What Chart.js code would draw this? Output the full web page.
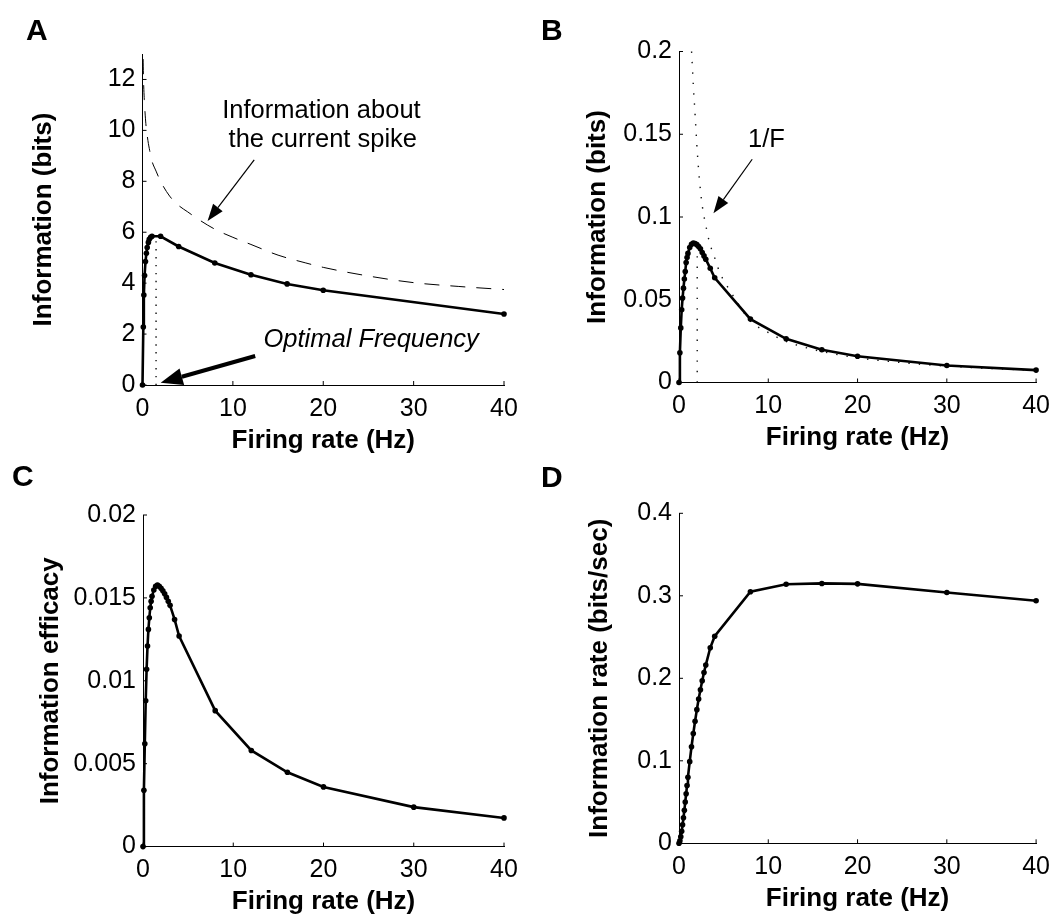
<!DOCTYPE html>
<html>
<head>
<meta charset="utf-8">
<script src="https://cdn.jsdelivr.net/npm/chart.js@4"></script>
<style>
html,body{margin:0;padding:0;background:#fff;}
#wrap{position:relative;width:1059px;height:919px;overflow:hidden;background:#fff;}
canvas{position:absolute;display:block;}
</style>
</head>
<body>
<div id="wrap">
<canvas id="cA" width="529" height="459" style="left:0;top:0;width:529px;height:459px"></canvas>
<canvas id="cB" width="530" height="459" style="left:529px;top:0;width:530px;height:459px"></canvas>
<canvas id="cC" width="529" height="460" style="left:0;top:459px;width:529px;height:460px"></canvas>
<canvas id="cD" width="530" height="460" style="left:529px;top:459px;width:530px;height:460px"></canvas>
</div>
<script>
// ---------------- DATA ----------------
const xTicks = [0, 10, 20, 30, 40];
const xTickLabels = ['0', '10', '20', '30', '40'];

// Panel A: information (bits)
const rateA = [0, 0.09, 0.15, 0.23, 0.33, 0.43, 0.52, 0.65, 0.75, 0.9, 1.05, 2, 4, 8, 12, 16, 20, 40];
const infoA = [0, 2.28, 3.53, 4.3, 4.85, 5.17, 5.4, 5.6, 5.72, 5.8, 5.84, 5.84, 5.44, 4.79, 4.33, 3.97, 3.72, 2.79];
// dashed: information about the current spike
const spikeRateA = [0.07, 0.1, 0.15, 0.2, 0.3, 0.4, 0.6, 0.8, 1.0, 1.5, 2, 3, 4, 5, 6, 8, 10, 12, 15, 18, 20, 25, 30, 35, 40];
const spikeInfoA = [12.8, 12.15, 11.6, 11.2, 10.6, 10.15, 9.6, 9.2, 8.85, 8.4, 8.0, 7.42, 7.05, 6.8, 6.55, 6.12, 5.8, 5.52, 5.1, 4.8, 4.62, 4.28, 4.02, 3.87, 3.75];
// dotted: optimal frequency marker
const optRateA = [1.5, 1.5];
const optInfoA = [0, 5.75];
const yTicksA = [0, 2, 4, 6, 8, 10, 12];
const yTickLabelsA = ['0', '2', '4', '6', '8', '10', '12'];

// Panels B, C, D share the firing-rate grid
const rateBCD = [0, 0.1, 0.2, 0.3, 0.4, 0.5, 0.6, 0.7, 0.8, 0.9, 1.0, 1.2, 1.4, 1.6, 1.8, 2.0, 2.2, 2.4, 2.6, 2.8, 3.0, 3.5, 4, 8, 12, 16, 20, 30, 40];
// Panel B: information (bits)
const infoB = [0, 0.018, 0.033, 0.044, 0.051, 0.057, 0.0625, 0.067, 0.0725, 0.0755, 0.078, 0.0815, 0.0835, 0.0843, 0.084, 0.0833, 0.0822, 0.0808, 0.0785, 0.0765, 0.0745, 0.069, 0.0633, 0.0383, 0.0264, 0.0198, 0.0159, 0.0103, 0.0075];
// dotted 1/F curve
const invRateB = [1.41, 1.6, 1.8, 2.04, 2.3, 2.6, 3.0, 3.4, 4.0, 4.6, 5.2, 6, 7, 8, 10, 12, 14, 16, 20, 25, 30, 35, 40];
const invInfoB = [0.2, 0.18, 0.162, 0.14, 0.122, 0.107, 0.095, 0.085, 0.0753, 0.066, 0.06, 0.053, 0.0445, 0.037, 0.0302, 0.0248, 0.0214, 0.0187, 0.0149, 0.012, 0.0099, 0.0085, 0.0073];
const optRateB = [2.04, 2.04];
const optInfoB = [0, 0.08];
const yTicksB = [0, 0.05, 0.1, 0.15, 0.2];
const yTickLabelsB = ['0', '0.05', '0.1', '0.15', '0.2'];

// Panel C: information efficacy
const efficacyC = [0, 0.0034, 0.0062, 0.0088, 0.0107, 0.0121, 0.0131, 0.0138, 0.0144, 0.0148, 0.0151, 0.01548, 0.0157, 0.01578, 0.0157, 0.01558, 0.01543, 0.01525, 0.01503, 0.0148, 0.01455, 0.0137, 0.0127, 0.0082, 0.0058, 0.00448, 0.0036, 0.00238, 0.00173];
const yTicksC = [0, 0.005, 0.01, 0.015, 0.02];
const yTickLabelsC = ['0', '0.005', '0.01', '0.015', '0.02'];

// Panel D: information rate (bits/sec)
const infoRateD = [0, 0.003, 0.008, 0.0145, 0.0225, 0.031, 0.040, 0.050, 0.060, 0.070, 0.080, 0.099, 0.117, 0.133, 0.148, 0.162, 0.175, 0.186, 0.197, 0.207, 0.216, 0.237, 0.251, 0.305, 0.314, 0.315, 0.3145, 0.304, 0.294];
const yTicksD = [0, 0.1, 0.2, 0.3, 0.4];
const yTickLabelsD = ['0', '0.1', '0.2', '0.3', '0.4'];

// ---------------- RENDERING ----------------
const FONT = '"Liberation Sans", Arial, Helvetica, sans-serif';
Chart.defaults.font.family = FONT;
Chart.defaults.color = '#000';

function pts(xs, ys) { return xs.map((x, i) => ({ x: x, y: ys[i] })); }

function solidSet(xs, ys) {
  return { data: pts(xs, ys), showLine: true, borderColor: '#000', borderWidth: 2.6,
    pointRadius: 2.8, pointHoverRadius: 2.8, pointBackgroundColor: '#000', pointBorderWidth: 0,
    tension: 0, clip: false, order: 0 };
}
function dottedSet(xs, ys, gap) {
  return { data: pts(xs, ys), showLine: true, borderColor: '#111', borderWidth: 1.4,
    borderDash: [1.4, gap], pointRadius: 0, pointHoverRadius: 0, cubicInterpolationMode: 'monotone',
    clip: false, order: 2 };
}
function dashedSet(xs, ys) {
  return { data: pts(xs, ys), showLine: true, borderColor: '#000', borderWidth: 1,
    borderDash: [15, 11], pointRadius: 0, pointHoverRadius: 0, cubicInterpolationMode: 'monotone',
    clip: false, order: 1 };
}

function drawArrow(ctx, x1, y1, x2, y2, lw, headLen, headHalf) {
  const ang = Math.atan2(y2 - y1, x2 - x1);
  const bx = x2 - headLen * Math.cos(ang), by = y2 - headLen * Math.sin(ang);
  ctx.lineWidth = lw;
  ctx.beginPath(); ctx.moveTo(x1, y1); ctx.lineTo(bx, by); ctx.stroke();
  ctx.beginPath();
  ctx.moveTo(x2, y2);
  ctx.lineTo(bx + headHalf * Math.sin(ang), by - headHalf * Math.cos(ang));
  ctx.lineTo(bx - headHalf * Math.sin(ang), by + headHalf * Math.cos(ang));
  ctx.closePath(); ctx.fill();
}

const decor = {
  id: 'decor',
  afterDatasetsDraw(chart, args, opts) {
    const ctx = chart.ctx, xs = chart.scales.x, ys = chart.scales.y;
    ctx.save();
    ctx.strokeStyle = '#000'; ctx.fillStyle = '#000'; ctx.lineWidth = 1;
    // inward ticks (MATLAB style)
    xs.ticks.forEach(t => {
      const px = xs.getPixelForValue(t.value);
      ctx.beginPath(); ctx.moveTo(px, ys.bottom); ctx.lineTo(px, ys.bottom - 4); ctx.stroke();
    });
    ys.ticks.forEach(t => {
      const py = ys.getPixelForValue(t.value);
      ctx.beginPath(); ctx.moveTo(xs.left, py); ctx.lineTo(xs.left + 4, py); ctx.stroke();
    });
    // annotation texts
    (opts.texts || []).forEach(t => {
      ctx.font = (t.italic ? 'italic ' : '') + '25.5px ' + FONT;
      ctx.textAlign = 'center'; ctx.textBaseline = 'alphabetic';
      ctx.fillText(t.text, xs.getPixelForValue(t.x), ys.getPixelForValue(t.y));
    });
    // arrows
    (opts.arrows || []).forEach(a => {
      drawArrow(ctx, xs.getPixelForValue(a.from[0]), ys.getPixelForValue(a.from[1]),
        xs.getPixelForValue(a.to[0]), ys.getPixelForValue(a.to[1]), a.lw, a.head, a.half);
    });
    // panel letter
    if (opts.letter) {
      ctx.font = 'bold 30px ' + FONT; ctx.textAlign = 'left'; ctx.textBaseline = 'alphabetic';
      ctx.fillText(opts.letter.text, opts.letter.x, opts.letter.y);
    }
    ctx.restore();
  }
};

function makePanel(id, g, datasets, yMax, yTicks, yLabels, yTitle, decorOpts) {
  const canvas = document.getElementById(id);
  const W = canvas.width, H = canvas.height;
  return new Chart(canvas, {
    type: 'scatter',
    data: { datasets: datasets },
    plugins: [decor],
    options: {
      responsive: false, animation: false, devicePixelRatio: 1,
      layout: { padding: { left: 0, top: g.top, right: W - g.right, bottom: 0 } },
      plugins: { legend: { display: false }, tooltip: { enabled: false }, decor: decorOpts },
      scales: {
        x: {
          type: 'linear', min: 0, max: 40,
          afterBuildTicks: s => { s.ticks = xTicks.map(v => ({ value: v })); },
          afterFit: s => { s.height = H - g.bottom; },
          ticks: { padding: 9, maxRotation: 0, autoSkip: false, font: { size: 25 },
            callback: (v, i) => xTickLabels[i] },
          grid: { display: true, drawOnChartArea: false, drawTicks: false },
          border: { display: true, color: '#000', width: 1 },
          title: { display: true, text: 'Firing rate (Hz)', color: '#000',
            font: { size: 26, weight: 'bold', lineHeight: 1 },
            padding: { top: 0, bottom: H - g.xTitleY - 13 } }
        },
        y: {
          type: 'linear', min: 0, max: yMax,
          afterBuildTicks: s => { s.ticks = yTicks.map(v => ({ value: v })); },
          afterFit: s => { s.width = g.left; },
          ticks: { padding: 7, font: { size: 25 }, autoSkip: false,
            callback: (v, i) => yLabels[i] },
          grid: { display: true, drawOnChartArea: false, drawTicks: false },
          border: { display: true, color: '#000', width: 1 },
          title: { display: true, text: yTitle, color: '#000',
            font: { size: 26, weight: 'bold', lineHeight: 1 },
            padding: { top: g.yTitleX - 13, bottom: 0 } }
        }
      }
    }
  });
}

// Panel A
makePanel('cA', { left: 142.5, right: 504, top: 54, bottom: 385, yTitleX: 44, xTitleY: 441 },
  [solidSet(rateA, infoA), dashedSet(spikeRateA, spikeInfoA), dottedSet(optRateA, optInfoA, 6.5)],
  13, yTicksA, yTickLabelsA, 'Information (bits)',
  {
    letter: { text: 'A', x: 26, y: 40 },
    texts: [
      { text: 'Information about', x: 19.8, y: 10.49 },
      { text: 'the current spike', x: 19.95, y: 9.33 },
      { text: 'Optimal Frequency', x: 25.3, y: 1.51, italic: true }
    ],
    arrows: [
      { from: [12.36, 8.84], to: [7.2, 6.44], lw: 1.2, head: 17, half: 6 },
      { from: [12.47, 1.14], to: [2.01, 0.09], lw: 4, head: 22, half: 8.5 }
    ]
  });

// Panel B
makePanel('cB', { left: 150, right: 509.3, top: 51.5, bottom: 382.5, yTitleX: 69, xTitleY: 438 },
  [solidSet(rateBCD, infoB), dottedSet(invRateB, invInfoB, 9), dottedSet(optRateB, optInfoB, 9)],
  0.2, yTicksB, yTickLabelsB, 'Information (bits)',
  {
    letter: { text: 'B', x: 12, y: 40 },
    texts: [ { text: '1/F', x: 9.8, y: 0.1425 } ],
    arrows: [ { from: [8.2, 0.1349], to: [3.86, 0.1022], lw: 1.2, head: 17, half: 6 } ]
  });

// Panel C
makePanel('cC', { left: 143, right: 504, top: 56, bottom: 387.6, yTitleX: 50.5, xTitleY: 443 },
  [solidSet(rateBCD, efficacyC)],
  0.02, yTicksC, yTickLabelsC, 'Information efficacy',
  { letter: { text: 'C', x: 12, y: 27 } });

// Panel D
makePanel('cD', { left: 150, right: 509.3, top: 54.3, bottom: 384.3, yTitleX: 71, xTitleY: 440 },
  [solidSet(rateBCD, infoRateD)],
  0.4, yTicksD, yTickLabelsD, 'Information rate (bits/sec)',
  { letter: { text: 'D', x: 12, y: 28 } });
</script>
</body>
</html>
